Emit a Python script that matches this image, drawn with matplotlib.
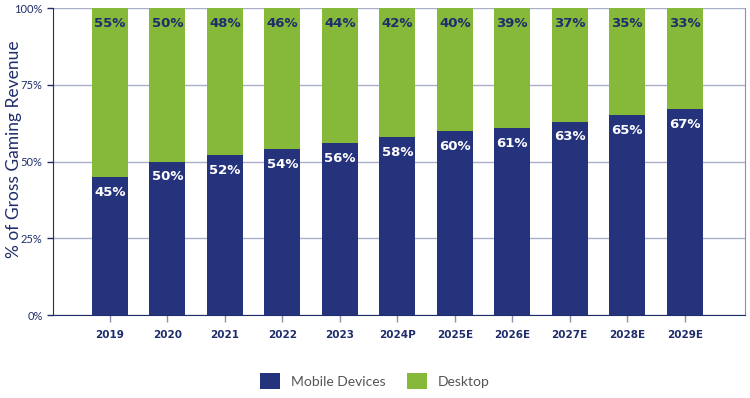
import matplotlib
matplotlib.use("Agg")
import matplotlib.pyplot as plt
from matplotlib.ticker import FuncFormatter

years   = ["2019", "2020", "2021", "2022", "2023", "2024P", "2025E", "2026E", "2027E", "2028E", "2029E"]
mobile  = [45, 50, 52, 54, 56, 58, 60, 61, 63, 65, 67]
desktop = [55, 50, 48, 46, 44, 42, 40, 39, 37, 35, 33]

NAVY  = "#25337d"
GREEN = "#86b93a"
TXT   = "#1f2d6b"
GRID  = "#a9b0c8"

plt.rcParams["font.family"] = ["Lato", "DejaVu Sans"]

fig = plt.figure(figsize=(7.5, 3.98), dpi=100)
ax = fig.add_axes([53/750, 1 - 315/398, (745-53)/750, (315-8)/398])

x = list(range(len(years)))
ax.bar(x, mobile, width=0.63, color=NAVY, label="Mobile Devices", zorder=3)
ax.bar(x, desktop, width=0.63, bottom=mobile, color=GREEN, label="Desktop", zorder=3)

for i in x:
    ax.text(i, mobile[i] - 5, f"{mobile[i]}%", ha="center", va="center",
            color="white", fontsize=9.5, fontweight="bold", family="DejaVu Sans", zorder=4)
    ax.text(i, 95, f"{desktop[i]}%", ha="center", va="center",
            color=TXT, fontsize=9.5, fontweight="bold", family="DejaVu Sans", zorder=4)

ax.set_xlim(-0.99, 11.05)
ax.set_ylim(0, 100)
ax.set_yticks([0, 25, 50, 75, 100])
ax.yaxis.set_major_formatter(FuncFormatter(lambda v, _: f"{int(v)}%"))
ax.set_xticks(x)
ax.set_xticklabels(years, fontweight="bold", fontsize=7.5, color=TXT, family="DejaVu Sans")
ax.tick_params(axis="y", labelsize=8, labelcolor=TXT, color=TXT, length=4, width=1)
ax.tick_params(axis="x", color="#8a90a8", length=5, width=1, pad=6)
ax.grid(axis="y", color=GRID, lw=1, zorder=0)

ax.spines["top"].set_visible(False)
ax.spines["left"].set_color(TXT)
ax.spines["bottom"].set_color(TXT)
ax.spines["right"].set_color("#8a90a8")

ax.set_ylabel("% of Gross Gaming Revenue", color=TXT, fontsize=12.5)
ax.yaxis.set_label_coords(-0.045, 0.54)

fig.legend(loc="lower center", bbox_to_anchor=(0.5, -0.01), ncol=2, frameon=False,
           fontsize=10, handlelength=1.4, handleheight=1.4, columnspacing=1.6,
           labelcolor="#555555")

fig.savefig("out.png", dpi=100)
